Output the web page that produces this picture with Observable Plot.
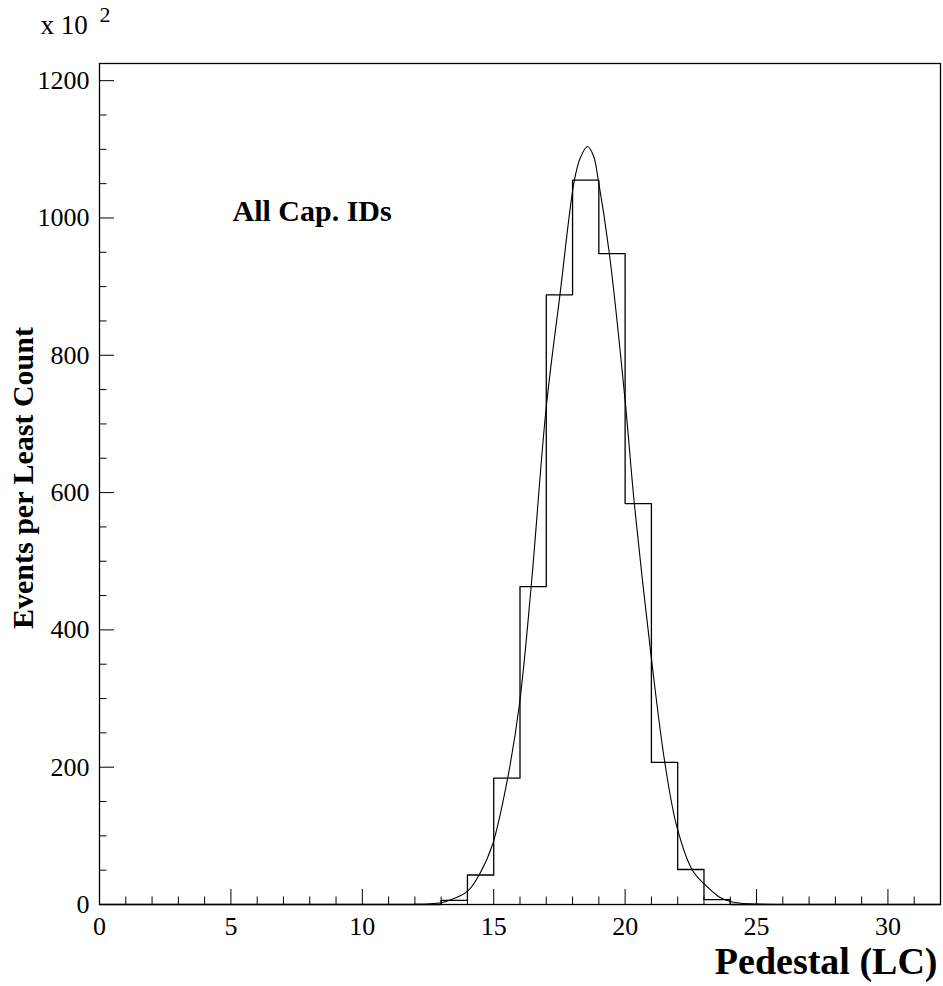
<!DOCTYPE html>
<html><head><meta charset="utf-8">
<script src="https://cdn.jsdelivr.net/npm/d3@7"></script>
<script src="https://cdn.jsdelivr.net/npm/@observablehq/plot@0.6"></script>
<style>body{margin:0;background:#fff;} svg{display:block;}</style>
</head><body><div id="chart"></div>
<script>
// Histogram: lower bin edges (width 1 LC) and counts (x 10^2)
const binLow = [13, 14, 15, 16, 17, 18, 19, 20, 21, 22, 23];
const counts = [6, 43, 184, 463, 888, 1055, 948, 584, 207, 51, 7];
// Gaussian fit curve
const fitX = [12.0, 12.5, 13.0, 13.44, 14.0, 14.46, 14.96, 15.53, 15.98, 16.42, 17.0, 17.52, 18.07, 18.3, 18.57, 18.8, 18.98, 19.4, 20.0, 20.35, 20.98, 21.51, 21.97, 22.56, 23.2, 23.58, 24.0, 24.5, 25.0, 26.0];
const fitY = [0.3, 0.8, 2.5, 8, 19, 44, 88, 184, 292, 461, 725, 888, 1055, 1088, 1104, 1090, 1055, 948, 734, 584, 365, 207, 113, 50, 23, 11, 4.5, 1.5, 0.5, 0];
// Axis ticks
const xMajor = [0, 5, 10, 15, 20, 25, 30];
const xMinor = [1,2,3,4,6,7,8,9,11,12,13,14,16,17,18,19,21,22,23,24,26,27,28,29,31];
const yMajor = [0, 200, 400, 600, 800, 1000, 1200];
const yMinor = [50,100,150,250,300,350,450,500,550,650,700,750,850,900,950,1050,1100,1150];

const xMax = 32, yMax = 1225;
const steps = [{x: 0, y: 0}]
  .concat(binLow.map((b, i) => ({x: b, y: counts[i]})))
  .concat([{x: binLow[binLow.length - 1] + 1, y: 0}, {x: xMax, y: 0}]);
const fit = fitX.map((x, i) => ({x, y: fitY[i]}));

const W = 943, H = 986, mL = 99, mR = 3, mT = 63, mB = 82;
const fw = W - mL - mR, fh = H - mT - mB;
const serif = "'Liberation Serif', 'Times New Roman', serif";

const chart = Plot.plot({
  width: W, height: H,
  marginLeft: mL, marginRight: mR, marginTop: mT, marginBottom: mB,
  x: {domain: [0, xMax], axis: null},
  y: {domain: [0, yMax], axis: null},
  style: {fontFamily: serif, color: "#000", background: "#fff", overflow: "visible"},
  marks: [
    Plot.tickX(xMajor, {x: d => d, insetTop: fh - 15, stroke: "#000"}),
    Plot.tickX(xMinor, {x: d => d, insetTop: fh - 7.5, stroke: "#000"}),
    Plot.tickY(yMajor, {y: d => d, insetRight: fw - 15, stroke: "#000"}),
    Plot.tickY(yMinor, {y: d => d, insetRight: fw - 7.5, stroke: "#000"}),
    Plot.line(steps, {x: "x", y: "y", curve: "step-after", stroke: "#000", strokeWidth: 1.3}),
    Plot.line(fit, {x: "x", y: "y", curve: "catmull-rom", stroke: "#000", strokeWidth: 1.1}),
    Plot.frame({stroke: "#000", strokeWidth: 1.3}),
    Plot.text(xMajor, {x: d => d, text: d => String(d), frameAnchor: "bottom", lineAnchor: "top", dy: 12, fontSize: 26, fill: "#000"}),
    Plot.text(yMajor, {y: d => d, text: d => String(d), frameAnchor: "left", textAnchor: "end", lineAnchor: "middle", dx: -10, fontSize: 26, fill: "#000"}),
    Plot.text(["Pedestal (LC)"], {frameAnchor: "bottom-right", textAnchor: "end", lineAnchor: "middle", dx: -3, dy: 57, fontSize: 38, fontWeight: "bold", fill: "#000"}),
    Plot.text(["Events per Least Count"], {frameAnchor: "left", textAnchor: "middle", lineAnchor: "middle", rotate: -90, dx: -76, dy: -6, fontSize: 30, fontWeight: "bold", fill: "#000"}),
    Plot.text(["All Cap. IDs"], {frameAnchor: "top-left", textAnchor: "start", lineAnchor: "middle", dx: 133, dy: 148, fontSize: 30, fontWeight: "bold", fill: "#000"}),
    Plot.text(["x 10"], {frameAnchor: "top-left", textAnchor: "start", lineAnchor: "middle", dx: -59, dy: -38, fontSize: 27, fill: "#000"}),
    Plot.text(["2"], {frameAnchor: "top-left", textAnchor: "start", lineAnchor: "middle", dx: 0, dy: -49, fontSize: 22, fill: "#000"})
  ]
});
document.getElementById("chart").appendChild(chart);
</script>
</body></html>
